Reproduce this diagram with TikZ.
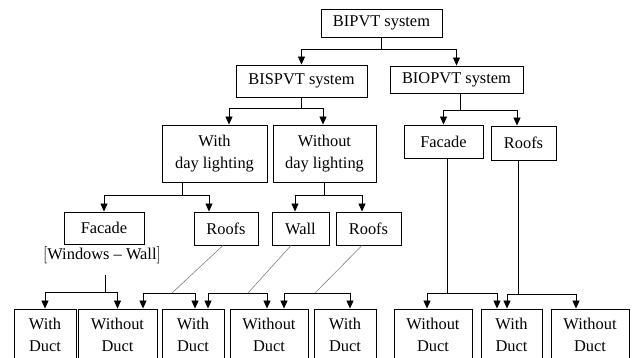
\documentclass[tikz,border=0pt]{standalone}
\usepackage{fontspec}
\setmainfont{Liberation Serif}
\usetikzlibrary{arrows.meta}
\begin{document}
\begin{tikzpicture}[x=1pt,y=-1pt,
    box/.style={rectangle,draw,line width=0.9pt,inner sep=0pt,align=center,font=\fontsize{16.4}{22}\selectfont},
    arr/.style={line width=0.9pt,-{Triangle[length=8pt,width=7pt]}},
    slant/.style={gray,line width=0.6pt}]
    \clip (0,0) rectangle (633,358);
    % upper part
    \node[box,minimum width=121,minimum height=28] (a) at (381.5,23) {BIPVT system};
    \node[box,minimum width=131,minimum height=32] (b) at (301.5,81) {BISPVT system};
    \node[box,minimum width=133,minimum height=27] (c) at (456.5,79.5) {BIOPVT system};
    \node[box,minimum width=105,minimum height=57] (d) at (214.5,153.5) {With\\day lighting};
    \node[box,minimum width=103,minimum height=57] (e) at (324.5,153.5) {Without\\day lighting};
    \node[box,minimum width=79,minimum height=33] (f) at (443.5,141.5) {Facade};
    \node[box,minimum width=65,minimum height=34] (g) at (523.5,143) {Roofs};
    \node[box,minimum width=80,minimum height=32] (h) at (104,228) {Facade};
    \node[font=\fontsize{16.4}{22}\selectfont,inner sep=0pt] (hw) at (102,255) {$\big[$Windows -- Wall$\big]$};
    \node[box,minimum width=64,minimum height=33] (i) at (226,228.5) {Roofs};
    \node[box,minimum width=57,minimum height=33] (j) at (300.5,228.5) {Wall};
    \node[box,minimum width=65,minimum height=33] (k) at (368.5,228.5) {Roofs};
    % lower boxes
    \node[box,minimum width=62,minimum height=52] (l1) at (45,335) {With\\Duct};
    \node[box,minimum width=79,minimum height=52] (l2) at (117.5,335) {Without\\Duct};
    \node[box,minimum width=62,minimum height=52] (l3) at (193,335) {With\\Duct};
    \node[box,minimum width=78,minimum height=52] (l4) at (269,335) {Without\\Duct};
    \node[box,minimum width=62,minimum height=52] (l5) at (345,335) {With\\Duct};
    \node[box,minimum width=78,minimum height=52] (l6) at (433,335) {Without\\Duct};
    \node[box,minimum width=61,minimum height=52] (l7) at (511.5,335) {With\\Duct};
    \node[box,minimum width=78,minimum height=52] (l8) at (590,335) {Without\\Duct};
    \coordinate (hd) at (105,275);
    \coordinate (m1) at (172,293);
    \coordinate (m2) at (248,293);
    \coordinate (m3) at (315,293);
    % connectors
    \draw[arr] (a.south) -- ++(0,12) -| (b.north);
    \draw[arr] (a.south) -- ++(0,12) -| (c.north);
    \draw[arr] (b.south) -- ++(0,11) -| ([xshift=14.5]d.north);
    \draw[arr] (b.south) -- ++(0,11) -| ([xshift=-1.5]e.north);
    \draw[arr] ([xshift=3.5]c.south) -- ++(0,17) -| (f.north);
    \draw[arr] ([xshift=3.5]c.south) -- ++(0,17) -| ([xshift=-6.5]g.north);
    \draw[arr] ([xshift=-32.5]d.south) -- ++(0,13) -| (h.north);
    \draw[arr] ([xshift=-32.5]d.south) -- ++(0,13) -| ([xshift=-17]i.north);
    \draw[arr] (e.south) -- ++(0,13) -| ([xshift=-5.5]j.north);
    \draw[arr] (e.south) -- ++(0,13) -| ([xshift=-6.5]k.north);
    \draw[arr] (hd) -- ++(0,17) -| (l1.north);
    \draw[arr] (hd) -- ++(0,17) -| (l2.north);
    \draw[slant] ([xshift=-3]i.south) -- (m1);
    \draw[arr] (m1) -| ([xshift=25.5]l2.north);
    \draw[arr] (m1) -| ([xshift=2]l3.north);
    \draw[slant] ([xshift=-9.5]j.south) -- (m2);
    \draw[arr] (m2) -| ([xshift=15]l3.north);
    \draw[arr] (m2) -| ([xshift=-2]l4.north);
    \draw[slant] ([xshift=-6.5]k.south) -- (m3);
    \draw[arr] (m3) -| ([xshift=15]l4.north);
    \draw[arr] (m3) -| ([xshift=5]l5.north);
    \draw[arr] ([xshift=3.5]f.south) -- ++(0,135) -| ([xshift=-6]l6.north);
    \draw[arr] ([xshift=3.5]f.south) -- ++(0,135) -| ([xshift=-14.5]l7.north);
    \draw[arr] ([xshift=-5.5]g.south) -- ++(0,134) -| ([xshift=-4.5]l7.north);
    \draw[arr] ([xshift=-5.5]g.south) -- ++(0,134) -| ([xshift=-14]l8.north);
\end{tikzpicture}
\end{document}
